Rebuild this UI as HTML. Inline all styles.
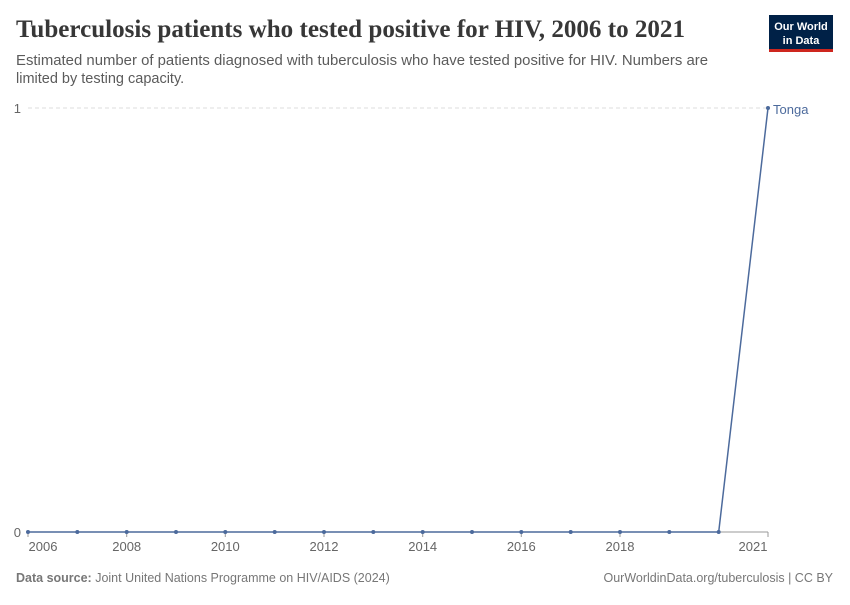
<!DOCTYPE html>
<html><head><style>
body{margin:0;background:#fff;width:850px;height:600px;overflow:hidden;font-family:"Liberation Sans",sans-serif}
</style></head><body>
<svg width="850" height="600" xmlns="http://www.w3.org/2000/svg">
<text x="16" y="37" font-family="Liberation Serif,serif" font-size="25" font-weight="bold" fill="#373737" textLength="669" lengthAdjust="spacingAndGlyphs">Tuberculosis patients who tested positive for HIV, 2006 to 2021</text>
<text x="16" y="65" font-size="14.5" fill="#5b5b5b" textLength="692" lengthAdjust="spacingAndGlyphs">Estimated number of patients diagnosed with tuberculosis who have tested positive for HIV. Numbers are</text>
<text x="16" y="83" font-size="14.5" fill="#5b5b5b">limited by testing capacity.</text>
<rect x="769" y="15" width="64" height="36" fill="#002147"/>
<rect x="769" y="49" width="64" height="3" fill="#ce261e"/>
<text x="801" y="30" font-size="11" fill="#fff" text-anchor="middle" font-weight="bold">Our World</text>
<text x="801" y="44" font-size="11" fill="#fff" text-anchor="middle" font-weight="bold">in Data</text>
<line x1="28" y1="108" x2="768" y2="108" stroke="#ddd" stroke-dasharray="4,3"/>
<line x1="28" y1="532" x2="768" y2="532" stroke="#999"/>
<text x="21" y="113" font-size="13" fill="#666" text-anchor="end">1</text>
<text x="21" y="537" font-size="13" fill="#666" text-anchor="end">0</text>
<g font-size="13" fill="#666" text-anchor="middle">
<text x="43" y="551">2006</text><text x="126.7" y="551">2008</text><text x="225.3" y="551">2010</text><text x="324" y="551">2012</text><text x="422.7" y="551">2014</text><text x="521.3" y="551">2016</text><text x="620" y="551">2018</text><text x="753" y="551">2021</text>
</g>
<g stroke="#999"><line x1="28" y1="532" x2="28" y2="537"/><line x1="126.7" y1="532" x2="126.7" y2="537"/><line x1="225.3" y1="532" x2="225.3" y2="537"/><line x1="324" y1="532" x2="324" y2="537"/><line x1="422.7" y1="532" x2="422.7" y2="537"/><line x1="521.3" y1="532" x2="521.3" y2="537"/><line x1="620" y1="532" x2="620" y2="537"/><line x1="768" y1="532" x2="768" y2="537"/></g>
<polyline points="28,532 718.7,532 768,108" fill="none" stroke="#4c6a9c" stroke-width="1.5"/>
<g fill="#4c6a9c">
<circle cx="28" cy="532" r="2"/><circle cx="77.3" cy="532" r="2"/><circle cx="126.7" cy="532" r="2"/><circle cx="176" cy="532" r="2"/><circle cx="225.3" cy="532" r="2"/><circle cx="274.7" cy="532" r="2"/><circle cx="324" cy="532" r="2"/><circle cx="373.3" cy="532" r="2"/><circle cx="422.7" cy="532" r="2"/><circle cx="472" cy="532" r="2"/><circle cx="521.3" cy="532" r="2"/><circle cx="570.7" cy="532" r="2"/><circle cx="620" cy="532" r="2"/><circle cx="669.3" cy="532" r="2"/><circle cx="718.7" cy="532" r="2"/><circle cx="768" cy="108" r="2"/>
</g>
<text x="773" y="114" font-size="13" fill="#4c6a9c">Tonga</text>
<text x="16" y="582" font-size="12.5" fill="#777"><tspan font-weight="bold">Data source:</tspan> Joint United Nations Programme on HIV/AIDS (2024)</text>
<text x="833" y="582" font-size="12.5" fill="#777" text-anchor="end">OurWorldinData.org/tuberculosis | CC BY</text>
</svg>
</body></html>
